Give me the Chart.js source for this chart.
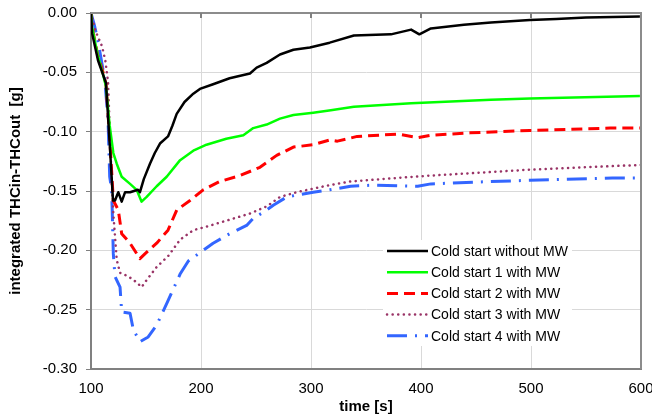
<!DOCTYPE html>
<html>
<head>
<meta charset="utf-8">
<script src="https://cdn.jsdelivr.net/npm/chart.js@4"></script>
<style>
html,body{margin:0;padding:0;background:#fff;}
#wrap{width:652px;height:418px;position:relative;}
</style>
</head>
<body>
<div id="wrap"><canvas id="c" width="652" height="418"></canvas></div>
<script>
// ---- data ----
const seriesNames = ["Cold start without MW","Cold start 1 with MW","Cold start 2 with MW","Cold start 3 with MW","Cold start 4 with MW"];

const t0 = [100,101,106.4,111,113.6,117,120,121.8,124.8,127.9,131,135.5,142.7,144.5,148,153.6,158,162.7,170,174,177.9,185,193,199,211,226,244.5,250.6,259.7,271.8,284,299,317,339,372.7,391,398.5,409,439,463.6,499,523,550,599];
const v0 = [0,-0.017,-0.040,-0.052,-0.059,-0.110,-0.158,-0.158,-0.151,-0.159,-0.151,-0.151,-0.149,-0.151,-0.140,-0.127,-0.118,-0.110,-0.104,-0.095,-0.085,-0.075,-0.068,-0.064,-0.060,-0.055,-0.051,-0.046,-0.042,-0.035,-0.031,-0.029,-0.025,-0.019,-0.018,-0.014,-0.018,-0.013,-0.010,-0.008,-0.006,-0.005,-0.0037,-0.003];

const t1 = [100,101,106,111,113.6,117,120.3,123.4,127.9,135.5,141.5,146,150.6,159.7,168.8,181,193,205,223,238.5,247.5,259.7,271.8,284,302,318,339,391,463.6,499,599];
const v1 = [0,-0.012,-0.035,-0.052,-0.062,-0.095,-0.118,-0.127,-0.138,-0.144,-0.149,-0.159,-0.155,-0.146,-0.138,-0.124,-0.116,-0.111,-0.106,-0.103,-0.097,-0.094,-0.089,-0.086,-0.084,-0.082,-0.079,-0.076,-0.073,-0.072,-0.070];

const t2 = [100,101,106,111,113.6,117,120.3,124.8,127.9,135.5,144.5,149,159.7,170,178,190,202,217,235.5,253.6,268.8,284,302,317,324,342,379,397,409,444.5,499,572,600];
const v2 = [0,-0.012,-0.035,-0.050,-0.060,-0.105,-0.158,-0.166,-0.186,-0.194,-0.207,-0.203,-0.194,-0.183,-0.166,-0.158,-0.149,-0.142,-0.137,-0.130,-0.120,-0.113,-0.111,-0.107,-0.108,-0.104,-0.102,-0.105,-0.103,-0.101,-0.099,-0.097,-0.097];

const t3 = [100,104,110,113,115.5,117.5,119,120.3,123.4,126.4,134,141.5,146,150.6,159.7,170,181,193,205,223,244.5,259.7,271.8,287,317,336,379,409,463.6,499,600];
const v3 = [0,-0.015,-0.028,-0.040,-0.058,-0.110,-0.145,-0.169,-0.208,-0.219,-0.222,-0.227,-0.231,-0.225,-0.214,-0.205,-0.191,-0.183,-0.180,-0.175,-0.169,-0.163,-0.155,-0.151,-0.145,-0.142,-0.139,-0.137,-0.134,-0.132,-0.128];

const t4 = [100,103,106.4,112.5,115.5,117,118.8,120.3,121.8,126.4,127.9,135.5,138.5,144.5,152,159.7,168.8,181,188.5,199,211,226,241.5,247.5,256.6,265.7,278,290,302,317,336,357.5,397,409,463.6,499,574,600];
const v4 = [0,-0.010,-0.024,-0.056,-0.090,-0.138,-0.149,-0.203,-0.222,-0.231,-0.252,-0.253,-0.267,-0.277,-0.273,-0.263,-0.245,-0.220,-0.209,-0.202,-0.194,-0.186,-0.179,-0.173,-0.168,-0.162,-0.155,-0.153,-0.151,-0.149,-0.146,-0.145,-0.146,-0.144,-0.142,-0.141,-0.139,-0.139];

const xTicks = [100,200,300,400,500,600];
const yTicks = [0,-0.05,-0.10,-0.15,-0.20,-0.25,-0.30];
// ---------------------------------------

function pts(t, v){ return t.map((x,i)=>({x:x, y:v[i]})); }

const styles = [
  {color:'#000000', width:2.5, dash:[], cap:'butt'},
  {color:'#00ff00', width:2.5, dash:[], cap:'butt'},
  {color:'#ff0000', width:3, dash:[11,6], cap:'butt'},
  {color:'#993366', width:2.5, dash:[0.1,5.5], cap:'round'},
  {color:'#3366ff', width:3, dash:[20,8,2,8], cap:'butt'}
];
const tSets = [t0,t1,t2,t3,t4];
const vSets = [v0,v1,v2,v3,v4];

const datasets = seriesNames.map((n,i)=>({
  label:n,
  data:pts(tSets[i], vSets[i]),
  borderColor:styles[i].color,
  backgroundColor:styles[i].color,
  borderWidth:styles[i].width,
  borderDash:styles[i].dash,
  borderCapStyle:styles[i].cap,
  borderJoinStyle:'round',
  pointRadius:0,
  tension:0,
  fill:false
}));

const FONT = "'Liberation Sans', Arial, sans-serif";

const framePlugin = {
  id:'frame',
  afterDatasetsDraw(chart){
    const {ctx, chartArea:a, scales} = chart;
    ctx.save();
    // top & right frame
    ctx.strokeStyle = '#8c8c8c';
    ctx.lineWidth = 2;
    ctx.beginPath();
    ctx.moveTo(a.left, a.top); ctx.lineTo(a.right, a.top); ctx.lineTo(a.right, a.bottom);
    ctx.stroke();
    // small ticks on top frame
    ctx.lineWidth = 2;
    ctx.strokeStyle = '#808080';
    xTicks.forEach(v=>{
      const x = scales.x.getPixelForValue(v);
      if (x > a.left+2 && x < a.right-2){
        ctx.beginPath(); ctx.moveTo(x, a.top); ctx.lineTo(x, a.top+5); ctx.stroke();
      }
    });
    // legend inside plot
    const bx = a.left + 292, by = a.top + 227, bw = 189, bh = 106;
    ctx.fillStyle = '#ffffff';
    ctx.fillRect(bx, by, bw, bh);
    ctx.font = '14px ' + FONT;
    ctx.textBaseline = 'middle';
    ctx.textAlign = 'left';
    chart.data.datasets.forEach((d,i)=>{
      const y = by + 11 + i*21.2;
      ctx.beginPath();
      ctx.setLineDash(d.borderDash || []);
      ctx.lineCap = d.borderCapStyle;
      ctx.strokeStyle = d.borderColor;
      ctx.lineWidth = d.borderWidth;
      ctx.moveTo(bx + 4, y); ctx.lineTo(bx + 45, y);
      ctx.stroke();
      ctx.setLineDash([]);
      ctx.fillStyle = '#000';
      ctx.fillText(d.label, bx + 48, y + 1);
    });
    ctx.restore();
  }
};

new Chart(document.getElementById('c'), {
  type:'line',
  data:{datasets},
  plugins:[framePlugin],
  options:{
    responsive:false,
    animation:false,
    devicePixelRatio:1,
    layout:{padding:{left:0, right:11, top:13, bottom:0}},
    plugins:{legend:{display:false}, tooltip:{enabled:false}},
    scales:{
      x:{
        type:'linear', min:100, max:600,
        afterBuildTicks(s){ s.ticks = xTicks.map(v=>({value:v})); },
        afterFit(s){ s.height = 49; s.paddingLeft = 0; s.paddingRight = 0; },
        grid:{color:'#d9d9d9', lineWidth:1, drawTicks:false},
        border:{color:'#808080', width:2},
        ticks:{color:'#000', font:{family:FONT, size:15}, padding:11, maxRotation:0,
               callback:(v)=>String(v)},
        title:{display:true, text:'time [s]', color:'#000', font:{family:FONT, size:15, weight:'bold'}, padding:{top:0,bottom:2}}
      },
      y:{
        type:'linear', min:-0.30, max:0,
        afterBuildTicks(s){ s.ticks = yTicks.map(v=>({value:v})); },
        afterFit(s){ s.width = 91; s.paddingTop = 0; s.paddingBottom = 0; },
        grid:{color:'#d9d9d9', lineWidth:1, tickColor:'#808080', tickLength:5},
        border:{color:'#808080', width:2},
        ticks:{color:'#000', font:{family:FONT, size:15}, padding:9,
               callback:(v)=>Number(v).toFixed(2)},
        title:{display:true, text:'integrated THCin-THCout  [g]', color:'#000', font:{family:FONT, size:15, weight:'bold'}, padding:{top:7,bottom:0}}
      }
    }
  }
});
</script>
</body>
</html>
